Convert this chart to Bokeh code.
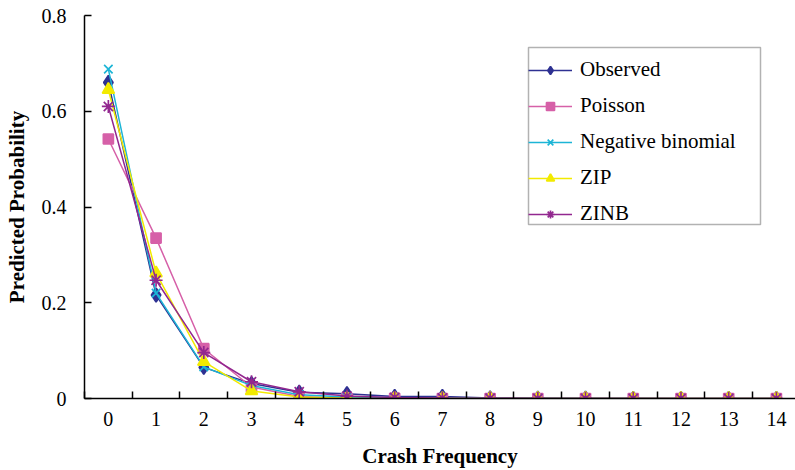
from bokeh.plotting import figure
from bokeh.models import FixedTicker, Range1d, Legend, LegendItem, BoxAnnotation
from bokeh.embed import file_html
from bokeh.resources import INLINE

freq = list(range(15))
tick_labels = [str(i) for i in freq]
observed = [0.660, 0.216, 0.065, 0.031, 0.013, 0.010, 0.004, 0.004, 0.001, 0.0008, 0.0004, 0.0003, 0.0002, 0.0001, 0.0001]
poisson = [0.542, 0.335, 0.104, 0.024, 0.004, 0.0006, 0.0001, 0, 0, 0, 0, 0, 0, 0, 0]
negbin = [0.688, 0.220, 0.066, 0.027, 0.008, 0.003, 0.0015, 0.0007, 0.0003, 0.0001, 0.0001, 0, 0, 0, 0]
zip_ = [0.645, 0.262, 0.077, 0.016, 0.003, 0.0005, 0.0001, 0, 0, 0, 0, 0, 0, 0, 0]
zinb = [0.610, 0.247, 0.096, 0.035, 0.014, 0.005, 0.002, 0.001, 0.0004, 0.0002, 0.0001, 0, 0, 0, 0]

series = [
    ("Observed", observed, "#2E3192", "diamond", 14),
    ("Poisson", poisson, "#D660A8", "square", 10),
    ("Negative binomial", negbin, "#1CB5D6", "x", 12),
    ("ZIP", zip_, "#F2EA00", "triangle", 12),
    ("ZINB", zinb, "#92278F", "asterisk", 13),
]

FONT = "Liberation Serif"

p = figure(width=795, height=470, output_backend="svg", toolbar_location=None,
           x_range=Range1d(-0.5, 14.4), y_range=Range1d(0, 0.8),
           min_border_left=84, min_border_top=15, min_border_right=0, min_border_bottom=72)
p.outline_line_color = None
p.xgrid.visible = False
p.ygrid.visible = False
p.background_fill_color = "white"

items = []
for name, vals, color, marker, size in series:
    lr = p.line(freq, vals, line_color=color, line_width=1.5)
    sr = p.scatter(freq, vals, marker=marker, size=size, fill_color=color,
                   line_color=color, line_width=1.7)
    items.append(LegendItem(label=name, renderers=[lr, sr]))

# legend frame (frame-relative screen pixels)
box = BoxAnnotation(left=444, right=676, bottom=174, top=351,
                    left_units="screen", right_units="screen",
                    bottom_units="screen", top_units="screen",
                    fill_color="white", fill_alpha=1.0,
                    line_color="black", line_width=1.5)
p.add_layout(box)

legend = Legend(items=items, location=(444, 172), border_line_color=None,
                label_text_font=FONT, label_text_font_size="21px",
                label_text_color="black", glyph_width=44, glyph_height=20, label_height=20,
                spacing=11, padding=5, label_standoff=8, margin=0,
                background_fill_alpha=0)
p.add_layout(legend)

xa = p.xaxis[0]
xa.ticker = FixedTicker(ticks=freq, minor_ticks=[i - 0.5 for i in range(16)])
xa.major_label_overrides = {i: tick_labels[i] for i in freq}
xa.major_tick_in = 0
xa.major_tick_out = 0
xa.minor_tick_in = 7
xa.minor_tick_out = 0
xa.minor_tick_line_color = "black"
xa.minor_tick_line_width = 1.5
xa.axis_line_color = "black"
xa.axis_line_width = 1.5
xa.major_label_text_font = FONT
xa.major_label_text_font_size = "20px"
xa.major_label_text_color = "black"
xa.major_label_standoff = 13
xa.axis_label = "Crash Frequency"
xa.axis_label_text_font = FONT
xa.axis_label_text_font_size = "21px"
xa.axis_label_text_font_style = "bold"
xa.axis_label_text_color = "black"
xa.axis_label_standoff = 15

ya = p.yaxis[0]
ya.ticker = FixedTicker(ticks=[0, 0.2, 0.4, 0.6, 0.8])
ya.major_label_overrides = {0: "0", 0.2: "0.2", 0.4: "0.4", 0.6: "0.6", 0.8: "0.8"}
ya.major_tick_in = 7
ya.major_tick_out = 0
ya.major_tick_line_color = "black"
ya.major_tick_line_width = 1.5
ya.minor_tick_line_color = None
ya.axis_line_color = "black"
ya.axis_line_width = 1.5
ya.major_label_text_font = FONT
ya.major_label_text_font_size = "20px"
ya.major_label_text_color = "black"
ya.major_label_standoff = 18
ya.axis_label = "Predicted Probability"
ya.axis_label_text_font = FONT
ya.axis_label_text_font_size = "21px"
ya.axis_label_text_font_style = "bold"
ya.axis_label_text_color = "black"
ya.axis_label_standoff = 10

open("out.html", "w").write(file_html(p, INLINE))
